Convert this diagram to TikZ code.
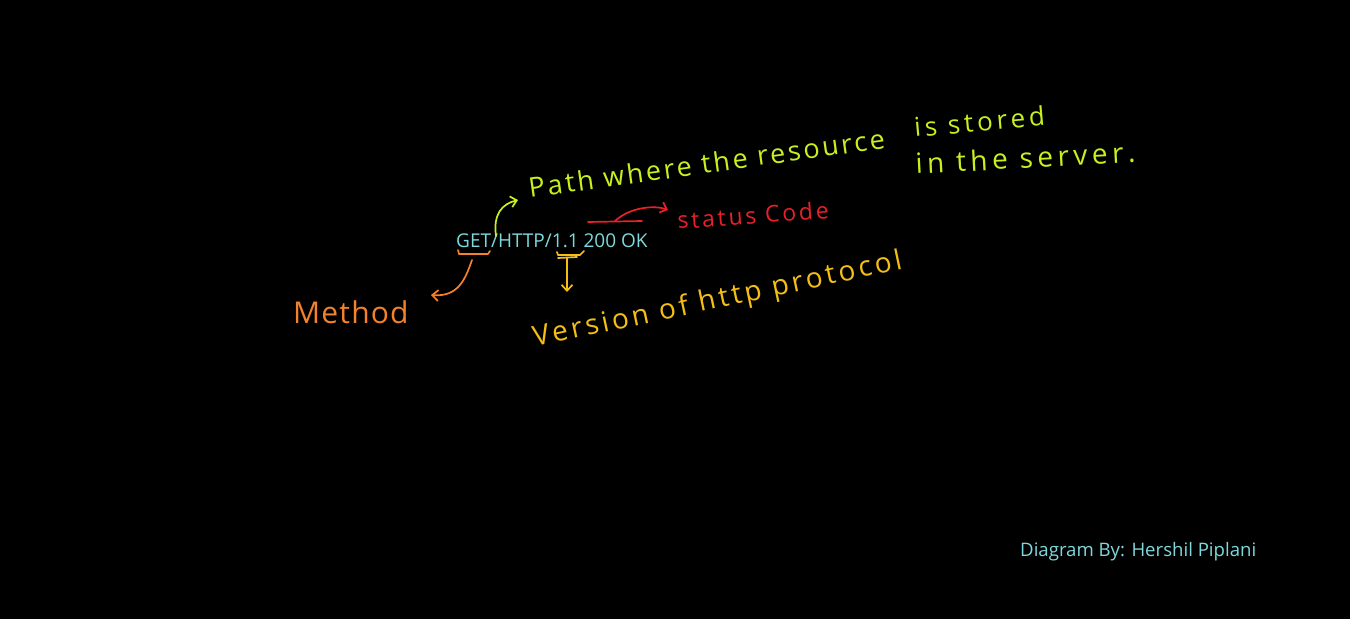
\documentclass[tikz,border=0pt]{standalone}
\usepackage{fontspec}
\setmainfont{Open Sans}
\usetikzlibrary{arrows.meta}

\definecolor{reqcyan}{HTML}{7FD9DC}
\definecolor{penlime}{HTML}{C8F01E}
\definecolor{penred}{HTML}{E8202A}
\definecolor{penorange}{HTML}{F4822A}
\definecolor{pengold}{HTML}{F5BE14}

\tikzset{
  pen/.style={line width=1.7pt,line cap=round,line join=round},
  typed/.style={anchor=base west,inner sep=0pt,text=reqcyan,font=\fontsize{19}{22}\selectfont},
  hand/.style 2 args={anchor=base west,inner sep=0pt,font=\fontsize{#1}{#1}\selectfont\addfontfeatures{LetterSpace=#2}},
}

\begin{document}
\begin{tikzpicture}[x=1pt,y=-1pt,>={Straight Barb[length=6pt,width=11pt]}]
  \fill[black] (0,0) rectangle (1350,619);
  \useasboundingbox (0,0) rectangle (1350,619);

  % request line and credit
  \node[typed] (req) at (456,247) {GET/HTTP/1.1 200 OK};
  \node[typed,font=\fontsize{18.6}{22}\selectfont] (credit) at (1020,556) {Diagram By: Hershil Piplani};

  % labels
  \node[hand={27}{10},text=penlime,rotate=8] (path) at (530,198) {Path where the resource};
  \node[hand={26}{15},text=penlime,rotate=5] (stored) at (915,137) {is stored};
  \node[hand={28}{16},text=penlime,rotate=3] (server) at (916,174) {in the server.};
  \node[hand={23}{12},text=penred,rotate=4] (status) at (678,229) {status Code};
  \node[hand={30}{4},text=penorange] (method) at (293,323) {Method};
  \node[hand={28}{12},text=pengold,rotate=12] (version) at (535,347) {Version of http protocol};

  % connectors
  \coordinate (pathfoot) at (496,236);
  \coordinate (pathtip) at (518,200);
  \draw[pen,penlime,->] (pathfoot) .. controls (493,214) and (502,204) .. (pathtip);

  \coordinate (codea) at (588,222);
  \coordinate (codeb) at (642,221);
  \coordinate (codemid) at (615,221);
  \coordinate (codetip) at (668,210);
  \draw[pen,penred] (codea) -- (codeb);
  \draw[pen,penred,->] (codemid) .. controls (630,207) and (655,205) .. (codetip);

  \coordinate (geta) at (458,250);
  \coordinate (getb) at (490,251);
  \coordinate (getfoot) at (472,260);
  \coordinate (methodtip) at (431,295);
  \draw[pen,penorange] (geta) -- (459,254) -- (488,254) -- (getb);
  \draw[pen,penorange,->] (getfoot) .. controls (465,280) and (458,297) .. (methodtip);

  \coordinate (vera) at (557,252);
  \coordinate (verb) at (584,251);
  \coordinate (verfoot) at (567,258);
  \coordinate (vertip) at (567,292);
  \draw[pen,pengold] (vera) -- (558,255) -- (580,255) -- (verb);
  \draw[pen,pengold] (558,258) -- (577,257);
  \draw[pen,pengold,->] (verfoot) -- (vertip);
\end{tikzpicture}
\end{document}
